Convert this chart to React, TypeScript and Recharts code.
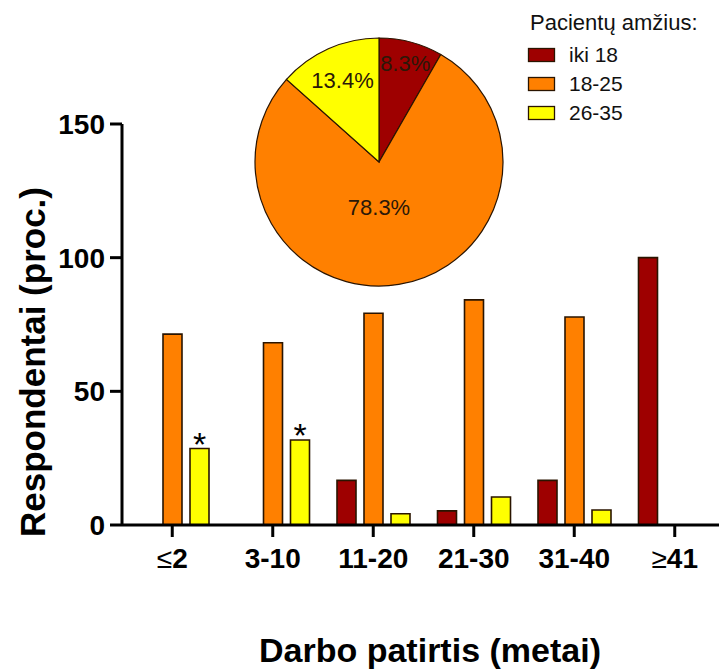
import React from 'react';
import { BarChart, Bar, XAxis, YAxis, PieChart, Pie, Cell, LabelList, Label, Legend } from 'recharts';

const categories = ['≤2', '3-10', '11-20', '21-30', '31-40', '≥41'];
const iki18 = [0, 0, 16.7, 5.3, 16.7, 100];
const age18to25 = [71.4, 68.2, 79.2, 84.2, 77.8, 0];
const age26to35 = [28.6, 31.8, 4.2, 10.5, 5.6, 0];
const significant = ['*', '*', '', '', '', ''];
const yTicks = [0, 50, 100, 150];

const pieNames = ['iki 18', '18-25', '26-35'];
const pieValues = [8.3, 78.3, 13.4];
const legendTitle = 'Pacientų amžius:';
const xTitle = 'Darbo patirtis (metai)';
const yTitle = 'Respondentai (proc.)';

const COLORS = ['#9E0000', '#FF8000', '#FFFF00'];
const STROKE = '#2a1400';
const FONT = '"Liberation Sans", Arial, sans-serif';

const barData = categories.map((c, i) => ({
  cat: c,
  iki18: iki18[i],
  a1825: age18to25[i],
  a2635: age26to35[i],
  mark: significant[i],
}));

const pieData = pieNames.map((n, i) => ({ name: n, value: pieValues[i] }));

const RAD = Math.PI / 180;
const labelRadiusFactor = [0.82, 0.37, 0.72];

const PieLabel = (props: any) => {
  const { cx, cy, midAngle, outerRadius, index, value } = props;
  const r = outerRadius * labelRadiusFactor[index];
  let x = cx + r * Math.cos(-midAngle * RAD);
  const y = cy + r * Math.sin(-midAngle * RAD);
  if (index === 1) x = cx;
  return (
    <text x={x} y={y} textAnchor="middle" dominantBaseline="central" fill="#2b1808" fontSize={22} fontFamily={FONT}>
      {`${value}%`}
    </text>
  );
};

const XTick = (props: any) => {
  const { x, y, payload } = props;
  const v: string = payload.value;
  const sym = v.startsWith('≤') || v.startsWith('≥') ? v[0] : '';
  const rest = sym ? v.slice(1) : v;
  return (
    <text x={x} y={y} dy={29} textAnchor="middle" fill="#000" fontSize={28} fontFamily={FONT}>
      {sym ? <tspan fontWeight="normal">{sym}</tspan> : null}
      <tspan fontWeight="bold">{rest}</tspan>
    </text>
  );
};

const StarLabel = (props: any) => {
  const { x, y, width, value } = props;
  if (!value) return null;
  return (
    <text x={x + width / 2} y={y + 7} textAnchor="middle" fill="#000" fontSize={34} fontFamily={FONT}>
      {value}
    </text>
  );
};

const LegendBox = () => (
  <svg width={195} height={130} style={{ display: 'block' }}>
    <text x={6} y={30} fontSize={22} fontFamily={FONT} fill="#111">{legendTitle}</text>
    {pieNames.map((n, i) => (
      <g key={n}>
        <rect x={4.5} y={48.5 + i * 29} width={26} height={13} fill={COLORS[i]} stroke={STROKE} strokeWidth={1.3} />
        <text x={45} y={62 + i * 29} fontSize={21} fontFamily={FONT} fill="#111">{n}</text>
      </g>
    ))}
  </svg>
);

export default function App() {
  return (
    <div style={{ position: 'absolute', left: 0, top: 0, width: 719, height: 670, overflow: 'hidden', background: '#fff', fontFamily: FONT }}>
      <div style={{ position: 'absolute', left: 0, top: 0 }}>
        <BarChart
          width={725}
          height={670}
          data={barData}
          margin={{ top: 124, right: 0, left: 0, bottom: 0 }}
          barSize={19}
          barGap={8}
        >
          <XAxis
            dataKey="cat"
            height={145}
            axisLine={{ stroke: '#000', strokeWidth: 3 }}
            tickLine={{ stroke: '#000', strokeWidth: 3 }}
            tickSize={12}
            tickMargin={2}
            tick={<XTick />}
            interval={0}
          >
            <Label
              content={() => (
                <text x={430} y={662} textAnchor="middle" fontSize={34} fontWeight="bold" fontFamily={FONT} fill="#000">
                  {xTitle}
                </text>
              )}
            />
          </XAxis>
          <YAxis
            width={122}
            domain={[0, 150]}
            ticks={yTicks}
            interval={0}
            axisLine={{ stroke: '#000', strokeWidth: 3 }}
            tickLine={{ stroke: '#000', strokeWidth: 3 }}
            tickSize={12}
            tickMargin={5}
            tick={{ fill: '#000', fontSize: 28, fontWeight: 'bold', fontFamily: FONT }}
          >
            <Label
              content={() => (
                <text
                  x={0}
                  y={0}
                  transform="translate(45 362) rotate(-90)"
                  textAnchor="middle"
                  fontSize={35}
                  fontWeight="bold"
                  fontFamily={FONT}
                  fill="#000"
                >
                  {yTitle}
                </text>
              )}
            />
          </YAxis>
          <Bar dataKey="iki18" fill={COLORS[0]} stroke={STROKE} strokeWidth={1.6} isAnimationActive={false} />
          <Bar dataKey="a1825" fill={COLORS[1]} stroke={STROKE} strokeWidth={1.6} isAnimationActive={false} />
          <Bar dataKey="a2635" fill={COLORS[2]} stroke={STROKE} strokeWidth={1.6} isAnimationActive={false}>
            <LabelList dataKey="mark" content={<StarLabel />} />
          </Bar>
        </BarChart>
      </div>
      <div style={{ position: 'absolute', left: 0, top: 0, pointerEvents: 'none' }}>
        <PieChart width={719} height={670} margin={{ top: 0, right: 0, bottom: 0, left: 0 }}>
          <Pie
            data={pieData}
            dataKey="value"
            nameKey="name"
            cx={379}
            cy={162}
            outerRadius={124}
            startAngle={90}
            endAngle={-270}
            stroke={STROKE}
            strokeWidth={1.2}
            label={PieLabel}
            labelLine={false}
            isAnimationActive={false}
          >
            {pieData.map((d, i) => (
              <Cell key={d.name} fill={COLORS[i]} />
            ))}
          </Pie>
          <Legend content={() => <LegendBox />} wrapperStyle={{ position: 'absolute', left: 524, top: 0, width: 195 }} />
        </PieChart>
      </div>
    </div>
  );
}
